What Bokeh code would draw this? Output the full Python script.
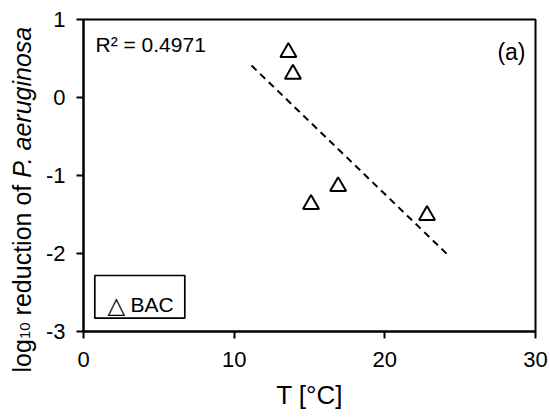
import math
from bokeh.plotting import figure
from bokeh.layouts import row
from bokeh.models import Label, BoxAnnotation, FixedTicker, Range1d
from bokeh.embed import file_html
from bokeh.resources import INLINE

# ---- data ----
series_name = "BAC"
temps = [13.6, 13.9, 15.1, 16.9, 22.8]
log_reduction = [0.58, 0.30, -1.37, -1.14, -1.51]
fit_x = [11.15, 24.25]
fit_y = [0.41, -2.03]
r2_text = "R² = 0.4971"
panel_tag = "(a)"
x_ticks = [0, 10, 20, 30]
x_tick_labels = ["0", "10", "20", "30"]
y_ticks = [-3, -2, -1, 0, 1]
y_tick_labels = ["-3", "-2", "-1", "0", "1"]
x_title = "T [°C]"
y_title_parts = ["log", "10", "reduction of", "P. aeruginosa"]

FONT = "Liberation Sans"
LEFT_W = 40

# ---- narrow strip holding the y-axis title (mixed styles) ----
ttl = figure(width=LEFT_W, height=417, output_backend="svg", toolbar_location=None,
             x_range=Range1d(0, 1), y_range=Range1d(0, 1),
             x_axis_location=None, y_axis_location=None,
             min_border_left=0, min_border_right=0, min_border_top=0, min_border_bottom=0)
ttl.frame_align = False
ttl.outline_line_color = None
ttl.xgrid.visible = False
ttl.ygrid.visible = False
ttl.background_fill_color = "white"
ttl.border_fill_color = "white"

ang = math.pi / 2
styles = [
    (21.5, 45.0, "25px", "normal"),
    (24.5, 78.4, "15px", "normal"),
    (21.5, 102.1, "25px", "normal"),
    (21.5, 239.7, "25px", "italic"),
]
for txt, (sx, sy, fs, st) in zip(y_title_parts, styles):
    ttl.add_layout(Label(x=sx, y=sy, x_units="screen", y_units="screen", text=txt,
                         angle=ang, text_font=FONT, text_font_size=fs, text_font_style=st,
                         text_align="left", text_baseline="alphabetic", text_color="black"))

# ---- main chart ----
p = figure(width=550 - LEFT_W, height=417, output_backend="svg", toolbar_location=None,
           x_range=Range1d(0, 30), y_range=Range1d(-3, 1),
           min_border_left=83 - LEFT_W, min_border_right=15, min_border_top=19, min_border_bottom=86)
p.frame_align = False
p.background_fill_color = "white"
p.border_fill_color = "white"
p.outline_line_color = "black"
p.outline_line_width = 2
p.xgrid.visible = False
p.ygrid.visible = False

for ax in (p.xaxis[0], p.yaxis[0]):
    ax.axis_line_width = 2
    ax.axis_line_color = "black"
    ax.major_tick_line_width = 2
    ax.major_tick_line_color = "black"
    ax.major_tick_in = 0
    ax.major_tick_out = 7
    ax.minor_tick_line_color = None
    ax.major_label_text_font = FONT
    ax.major_label_text_font_size = "22px"
    ax.major_label_text_color = "black"

p.xaxis.ticker = FixedTicker(ticks=x_ticks)
p.xaxis.major_label_overrides = {t: s for t, s in zip(x_ticks, x_tick_labels)}
p.yaxis.ticker = FixedTicker(ticks=y_ticks)
p.yaxis.major_label_overrides = {t: s for t, s in zip(y_ticks, y_tick_labels)}
p.xaxis.major_label_standoff = 13
p.yaxis.major_label_standoff = 11

p.xaxis.axis_label = x_title
p.xaxis.axis_label_text_font = FONT
p.xaxis.axis_label_text_font_size = "26px"
p.xaxis.axis_label_text_font_style = "normal"
p.xaxis.axis_label_text_color = "black"
p.xaxis.axis_label_standoff = 10

# regression line
p.line(fit_x, fit_y, line_color="black", line_width=2, line_dash="7 5")

# data points
p.scatter(temps, log_reduction, marker="triangle", size=16,
          fill_color=None, line_color="black", line_width=2)

# R² and panel tag
p.add_layout(Label(x=12, y=286.7, x_units="screen", y_units="screen", text=r2_text,
                   text_font=FONT, text_font_size="21px", text_align="left",
                   text_baseline="alphabetic", text_color="black"))
p.add_layout(Label(x=442, y=280, x_units="screen", y_units="screen", text=panel_tag,
                   text_font=FONT, text_font_size="23px", text_align="right",
                   text_baseline="alphabetic", text_color="black"))

# legend box
p.add_layout(BoxAnnotation(left=11.3, right=101.3, bottom=13.3, top=56,
                           left_units="screen", right_units="screen",
                           bottom_units="screen", top_units="screen",
                           fill_color="white", fill_alpha=1.0,
                           line_color="black", line_alpha=1.0, line_width=1.7,
                           level="annotation"))
p.add_layout(Label(x=24, y=26.7, x_units="screen", y_units="screen", text="△",
                   text_font="DejaVu Sans", text_font_size="23px", text_align="left",
                   text_baseline="alphabetic", text_color="black", level="annotation"))
p.add_layout(Label(x=47, y=26.7, x_units="screen", y_units="screen", text=series_name,
                   text_font=FONT, text_font_size="21px", text_align="left",
                   text_baseline="alphabetic", text_color="black", level="annotation"))

layout = row(ttl, p, spacing=0)
open("out.html", "w").write(file_html(layout, INLINE))
